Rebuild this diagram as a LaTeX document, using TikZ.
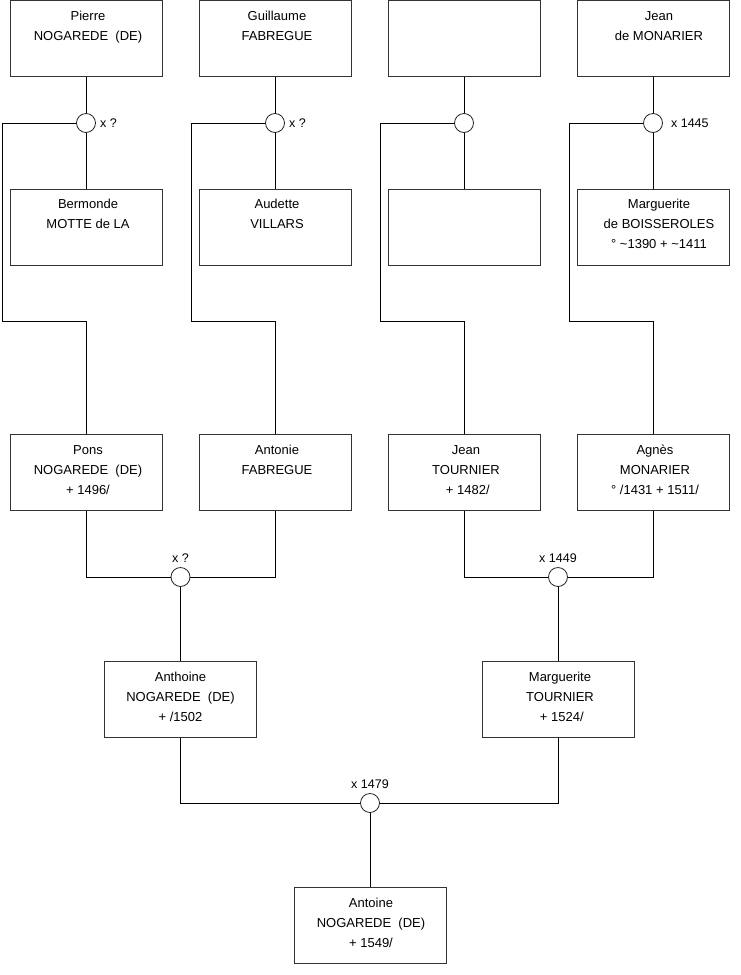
\documentclass[tikz,border=0pt]{standalone}
\usepackage{fontspec}
\setmainfont{Liberation Sans}
\begin{document}
\begin{tikzpicture}[x=1pt,y=-1pt,
  person/.style={draw=black!80, line width=0.8pt, minimum width=152pt, minimum height=76pt, inner sep=0pt},
  ptext/.style={font=\fontsize{13}{20}\selectfont, align=center, inner sep=0pt, yshift=2.5pt, xshift=2pt},
  union/.style={circle, draw=black!85, fill=white, line width=0.8pt, minimum size=19pt, inner sep=0pt},
  ulbl/.style={font=\fontsize{12.5}{15}\selectfont, inner sep=0pt},
  link/.style={draw=black, line width=0.8pt},
]
\useasboundingbox (0,0) rectangle (740,975);

% ---- generation 1 (top row)
\node[person, label={[ptext]center:\strut Pierre\\NOGAREDE\ \ (DE)\\\strut}] (pP) at (86,38.5) {};
\node[person, label={[ptext]center:\strut Guillaume\\FABREGUE\\\strut}] (pG) at (275,38.5) {};
\node[person] (pX) at (464,38.5) {};
\node[person, label={[ptext, xshift=4pt]center:\strut Jean\\de MONARIER\\\strut}] (pJ) at (653,38.5) {};

% ---- spouses
\node[person, label={[ptext]center:\strut Bermonde\\MOTTE de LA\\\strut}] (sB) at (86,227) {};
\node[person, label={[ptext]center:\strut Audette\\VILLARS\\\strut}] (sA) at (275,227) {};
\node[person] (sX) at (464,227) {};
\node[person, label={[ptext, xshift=4pt]center:\strut Marguerite\\de BOISSEROLES\\° \textasciitilde1390 + \textasciitilde1411\strut}] (sM) at (653,227) {};

% ---- unions gen 1
\node[union, label={[ulbl, label distance=4pt]right:x ?}] (u1) at (86,123) {};
\node[union, label={[ulbl, label distance=4pt]right:x ?}] (u2) at (275,123) {};
\node[union] (u3) at (464,123) {};
\node[union, label={[ulbl, label distance=8pt]right:x 1445}] (u4) at (653,123) {};

% ---- generation 2
\node[person, label={[ptext]center:\strut Pons\\NOGAREDE\ \ (DE)\\+ 1496/\strut}] (cP) at (86,472.5) {};
\node[person, label={[ptext]center:\strut Antonie\\FABREGUE\\\strut}] (cA) at (275,472.5) {};
\node[person, label={[ptext]center:\strut Jean\\TOURNIER\\\ + 1482/\strut}] (cJ) at (464,472.5) {};
\node[person, label={[ptext]center:\strut Agnès\\MONARIER\\° /1431 + 1511/\strut}] (cG) at (653,472.5) {};

\node[union, label={[ulbl, label distance=4pt]above:x ?}] (u5) at (180.5,577) {};
\node[union, label={[ulbl, label distance=4pt]above:x 1449}] (u6) at (558,577) {};

% ---- generation 3
\node[person, label={[ptext, xshift=-2pt]center:\strut Anthoine\\NOGAREDE\ \ (DE)\\+ /1502\strut}] (gA) at (180.5,699.5) {};
\node[person, label={[ptext]center:\strut Marguerite\\TOURNIER\\\ + 1524/\strut}] (gM) at (558,699.5) {};

\node[union, label={[ulbl, label distance=4pt]above:x 1479}] (u7) at (370,803) {};

% ---- generation 4
\node[person, label={[ptext, xshift=-1pt]center:\strut Antoine\\NOGAREDE\ \ (DE)\\+ 1549/\strut}] (aA) at (370,925.5) {};

% ---- connectors, family 1
\draw[link] (pP.south) -- (u1.north);
\draw[link] (u1.south) -- (sB.north);
\draw[link] (u1.west) -- (2,123) -- (2,321.5) -- (86,321.5) -- (cP.north);
% family 2
\draw[link] (pG.south) -- (u2.north);
\draw[link] (u2.south) -- (sA.north);
\draw[link] (u2.west) -- (191,123) -- (191,321.5) -- (275,321.5) -- (cA.north);
% family 3
\draw[link] (pX.south) -- (u3.north);
\draw[link] (u3.south) -- (sX.north);
\draw[link] (u3.west) -- (380,123) -- (380,321.5) -- (464,321.5) -- (cJ.north);
% family 4
\draw[link] (pJ.south) -- (u4.north);
\draw[link] (u4.south) -- (sM.north);
\draw[link] (u4.west) -- (569,123) -- (569,321.5) -- (653,321.5) -- (cG.north);

% ---- generation 2 unions
\draw[link] (cP.south) -- (86,577) -- (u5.west);
\draw[link] (u5.east) -- (275,577) -- (cA.south);
\draw[link] (u5.south) -- (gA.north);
\draw[link] (cJ.south) -- (464,577) -- (u6.west);
\draw[link] (u6.east) -- (653,577) -- (cG.south);
\draw[link] (u6.south) -- (gM.north);

% ---- generation 3 union
\draw[link] (gA.south) -- (180.5,803) -- (u7.west);
\draw[link] (u7.east) -- (558,803) -- (gM.south);
\draw[link] (u7.south) -- (aA.north);
\end{tikzpicture}
\end{document}
